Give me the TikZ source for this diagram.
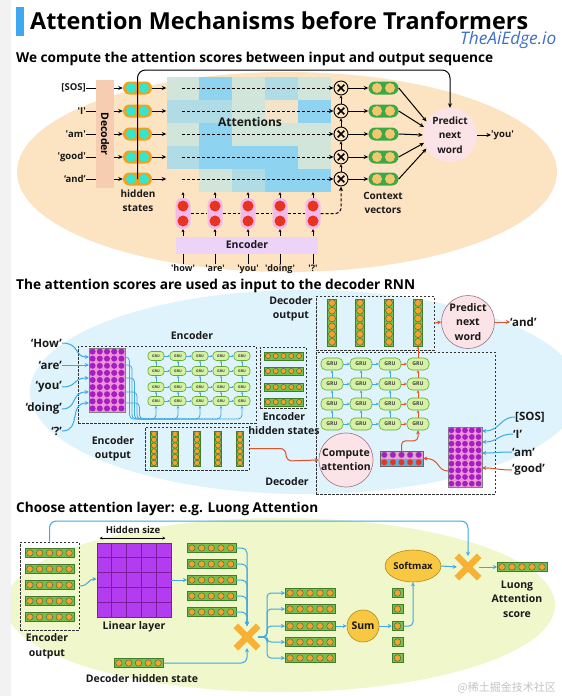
\documentclass[tikz,border=0pt]{standalone}
\usepackage{graphicx}
\usepackage{fontspec}
\setmainfont{Open Sans}
\newfontfamily\cjkfont{Noto Sans CJK SC}
\usetikzlibrary{shapes.geometric,arrows.meta,calc}

\definecolor{titleblue}{HTML}{3EA8F0}
\definecolor{aiblue}{HTML}{3D6FC8}
\definecolor{peach}{HTML}{FCE3C1}
\definecolor{decpeach}{HTML}{F6CDB0}
\definecolor{capor}{HTML}{F0A21E}
\definecolor{capcy}{HTML}{33E6CF}
\definecolor{ctxg}{HTML}{3BA948}
\definecolor{ctxy}{HTML}{F4C66E}
\definecolor{mA}{HTML}{D2E5DB}
\definecolor{mB}{HTML}{B0DCE6}
\definecolor{mC}{HTML}{8ED3EF}
\definecolor{mP}{HTML}{F3E3C9}
\definecolor{encpink}{HTML}{F2B9EA}
\definecolor{encred}{HTML}{E8341F}
\definecolor{lav}{HTML}{EED3F8}
\definecolor{lblue}{HTML}{DEF3FB}
\definecolor{gruf}{HTML}{D5F1A3}
\definecolor{grud}{HTML}{62A832}
\definecolor{bluel}{HTML}{3EA9E5}
\definecolor{redl}{HTML}{E2502C}
\definecolor{pinkc}{HTML}{FCE3E7}
\definecolor{pinkd}{HTML}{9A7580}
\definecolor{bargreen}{HTML}{74C04C}
\definecolor{bardark}{HTML}{3F7F2A}
\definecolor{dotor}{HTML}{F2A42A}
\definecolor{matpink}{HTML}{EE95D6}
\definecolor{matpur}{HTML}{A41EC4}
\definecolor{lgreen}{HTML}{EFF7CB}
\definecolor{linp}{HTML}{B43CF0}
\definecolor{lind}{HTML}{7A1E9E}
\definecolor{ylw}{HTML}{F9C842}
\definecolor{ylwd}{HTML}{B08A22}
\definecolor{xor}{HTML}{F7B236}
\definecolor{wmgray}{HTML}{C4C4C4}
\definecolor{vecblue}{HTML}{5AAEE0}
\definecolor{vecpink}{HTML}{E9A3DA}
\definecolor{leftgray}{HTML}{F2F2F2}

\newcommand\sq[1]{\textquotesingle#1\textquotesingle}

\tikzset{
  lbl/.style={font=\bfseries\fontsize{10}{14}\selectfont, inner sep=0pt, align=center, text=black!90},
  small/.style={font=\bfseries\fontsize{9.5}{11}\selectfont, inner sep=0pt, text=black!90},
  wlbl/.style={font=\bfseries\fontsize{11.5}{14}\selectfont, inner sep=0pt, text=black!90},
  karr/.style={-{Stealth[length=4.5pt,width=4pt]}, line width=1pt},
  tarr/.style={-{Stealth[length=3pt,width=3pt]}, line width=0.8pt},
  barr/.style={-{Stealth[length=4pt,width=4pt]}, line width=1pt, draw=bluel},
  rarr/.style={-{Stealth[length=4pt,width=4pt]}, line width=1pt, draw=redl},
  tbarr/.style={-{Stealth[length=2pt,width=2.2pt]}, line width=0.6pt, draw=bluel},
  tbarr2/.style={-{Stealth[length=2.8pt,width=2.8pt]}, line width=0.8pt, draw=bluel},
  trarr/.style={-{Stealth[length=2.8pt,width=2.8pt]}, line width=0.8pt, draw=redl},
  kdash/.style={dash pattern=on 3pt off 2pt},
  dashbox/.style={draw=black!80, dash pattern=on 2.5pt off 1.5pt, line width=0.8pt, inner sep=0},
  barbox/.style={draw=bardark, fill=bargreen, line width=0.5pt, inner sep=0},
  dotst/.style={fill=dotor, draw=black!70, line width=0.35pt},
  gru/.style={draw=grud, fill=gruf, line width=0.6pt, rounded corners=3.5pt, inner sep=0,
    minimum width=16pt, minimum height=9pt, font=\bfseries\fontsize{3.6}{4}\selectfont, text=black!75},
  grub/.style={gru, rounded corners=5pt, minimum width=22pt, minimum height=12pt,
    font=\bfseries\fontsize{5.2}{6}\selectfont},
  crossc/.style={circle, draw, line width=0.9pt, fill=peach, minimum size=14pt, inner sep=0,
    path picture={
      \draw[line width=1.7pt] ([shift={(-3.3pt,-3.3pt)}]path picture bounding box.center) -- ([shift={(3.3pt,3.3pt)}]path picture bounding box.center);
      \draw[line width=1.7pt] ([shift={(-3.3pt,3.3pt)}]path picture bounding box.center) -- ([shift={(3.3pt,-3.3pt)}]path picture bounding box.center);}},
  matbox/.style={fill=matpink, draw=black!50, line width=0.4pt, inner sep=0},
}

% horizontal dotted bar: name, x left, y centre, n, pitch, height
\newcommand\dotbarH[6]{%
  \node[barbox, anchor=west, minimum width=#4*#5pt, minimum height=#6pt] (#1) at (#2,#3) {};
  \foreach \k in {1,...,#4}{\filldraw[dotst] ({#2+(\k-0.5)*#5},#3) circle[radius=0.33*#5pt];}
}
% vertical dotted bar: name, x centre, y top, n, pitch, width
\newcommand\dotbarV[6]{%
  \node[barbox, anchor=north, minimum height=#4*#5pt, minimum width=#6pt] (#1) at (#2,#3) {};
  \foreach \k in {1,...,#4}{\filldraw[dotst] (#2,{#3+(\k-0.5)*#5}) circle[radius=0.38*#6pt];}
}
% purple embedding matrix: name, xc, yc, w, h, cols, rows
\newcommand\embmat[7]{%
  \node[matbox, minimum width=#4pt, minimum height=#5pt] (#1) at (#2,#3) {};
  \foreach \cc in {1,...,#6}{\foreach \rr in {1,...,#7}{%
    \fill[matpur] ({#2-#4/2+(\cc-0.5)*#4/#6},{#3-#5/2+(\rr-0.5)*#5/#7}) circle[radius=0.42*#4/#6 pt];}}
}

\begin{document}
\begin{tikzpicture}[x=1pt,y=-1pt]
\useasboundingbox (0,0) rectangle (562,696);
\fill[white] (0,0) rectangle (562,696);

% ================= title =================
\fill[titleblue] (16,7) rectangle (24,36);
\node[anchor=base west, inner sep=0] (title) at (30,29) {\resizebox{498pt}{!}{\bfseries Attention Mechanisms before Tranformers}};
\node[anchor=base west, inner sep=0, text=aiblue] (brand) at (460,45) {\resizebox{96pt}{!}{\itshape TheAiEdge.io}};
\node[anchor=base west, inner sep=0] (h1) at (16,62) {\resizebox{477pt}{!}{\bfseries We compute the attention scores between input and output sequence}};

% ================= top panel =================
\fill[peach] (287,172) ellipse [x radius=270pt, y radius=100pt];

\node[fill=decpeach, rotate=-90, minimum width=108pt, minimum height=18pt, inner sep=0,
  font=\bfseries\fontsize{10.5}{12}\selectfont] (dec) at (105,134) {Decoder};

% attention mosaic
\node[inner sep=0, minimum width=164pt, minimum height=115pt] (attn) at (248.5,134.5) {};
\foreach \r/\cols in {0/{mA,mC,mA,mB,mA},1/{mB,mB,mA,mP,mC},2/{mA,mC,mA,mA,mA},3/{mB,mC,mC,mC,mA},4/{peach,mA,mB,mC,mC}}{
  \foreach \cc [count=\c from 0] in \cols {
    \fill[\cc] ({166.5+32.8*\c},{77+23*\r}) rectangle ({166.5+32.8*(\c+1)},{77+23*(\r+1)});
  }
}
\node[lbl, font=\bfseries\fontsize{12}{14}\selectfont] (attl) at (250,122) {Attentions};

\foreach \y/\t [count=\i] in {88/{[SOS]},111/{\sq{I}},134/{\sq{am}},157/{\sq{good}},179/{‘and’}}{
  \node[small, anchor=east] (in\i) at (86,\y) {\t};
  \draw[line width=1pt] (in\i.east) -- (in\i.east -| dec.south);
  \node[fill=capor, rounded corners=6.5pt, minimum width=29pt, minimum height=13pt, inner sep=0] (hs\i) at (137.5,\y) {};
  \fill[capcy] (131,\y) circle[radius=5pt] (144,\y) circle[radius=5pt];
  \draw[karr] (dec.north |- hs\i) -- (hs\i.west);
  \draw[karr] (hs\i.east) -- (attn.west |- hs\i);
  \node[crossc] (x\i) at (341,\y) {};
  \draw[karr, kdash] ($(attn.west |- hs\i)+(16,0)$) -- (x\i.west);
  \node[fill=ctxg, rounded corners=6.5pt, minimum width=30pt, minimum height=13pt, inner sep=0] (c\i) at (383.5,\y) {};
  \fill[ctxy] (377,\y) circle[radius=5pt] (390,\y) circle[radius=5pt];
  \draw[karr] (x\i.east) -- (c\i.west);
}
\foreach \a/\b in {2/1,3/2,4/3,5/4}{\draw[tarr] (x\a.north) -- (x\b.south);}

\node[circle, fill=pinkc, minimum size=54pt, inner sep=0, lbl, font=\bfseries\fontsize{10}{14.5}\selectfont] (pred) at (450,135) {Predict\\next\\word};
\foreach \i/\ang in {1/150,2/163,3/180,4/197,5/210}{\draw[karr] (c\i.east) -- (pred.\ang);}
\node[small, anchor=west] (you) at (491,135) {\sq{you}};
\draw[karr] (pred.east) -- (you.west);

\coordinate (topL) at (137.5,70);
\coordinate (topR) at (450,70);
\draw[karr, rounded corners=8pt] (hs5.center) -- (topL) -- (topR) -- (pred.north);

\node[lbl] (hsl) at (138,201) {hidden\\states};
\node[lbl] (ctxl) at (383,203) {Context\\vectors};

% encoder (top)
\node[fill=lav, minimum width=142pt, minimum height=17pt, inner sep=0, lbl, font=\bfseries\fontsize{10.5}{12}\selectfont] (enc) at (247,245) {Encoder};
\foreach \x/\t [count=\i] in {183/\sq{how},215/\sq{are},248/\sq{you},280/\sq{doing},313/\sq{?}}{
  \node[fill=encpink, rounded corners=7pt, minimum width=15pt, minimum height=31pt, inner sep=0] (e\i) at (\x,213.5) {};
  \fill[encred] (\x,206) circle[radius=5.5pt] (\x,221) circle[radius=5.5pt];
  \draw[tarr] (e\i.north) -- (e\i.north |- attn.south);
  \draw[tarr] (enc.north -| e\i) -- (e\i.south);
  \node[small, font=\bfseries\fontsize{9}{11}\selectfont, anchor=base] (w\i) at (\x,271) {\t};
  \draw[line width=0.9pt] (w\i.north) -- (w\i.north |- enc.south);
}
\foreach \a/\b in {1/2,2/3,3/4,4/5}{\draw[line width=0.9pt, kdash] (e\a.east) -- (e\b.west);}
\draw[karr, kdash, rounded corners=5pt] (e5.east) -| (x5.south);

% ================= middle panel =================
\fill[lblue] (305,392) ellipse [x radius=275pt, y radius=102pt];
\node[anchor=base west, inner sep=0] (h2) at (16,289) {\resizebox{399pt}{!}{\bfseries The attention scores are used as input to the decoder RNN}};

% encoder
\node[dashbox, minimum width=178pt, minimum height=77pt] (encbox) at (167,384.5) {};
\node[lbl, font=\bfseries\fontsize{10.5}{12}\selectfont] (enclbl) at (192,336) {Encoder};
\embmat{emb}{107}{380}{36}{64}{5}{9}
\foreach \y/\t [count=\i] in {343/{‘How’},365/{‘are’},387/{‘you’},409/{‘doing’},431/{‘?’}}{
  \node[wlbl, anchor=east] (wm\i) at (62,\y) {\t};
}
\draw[barr] (wm1.east) .. controls (80,343) and (74,357) .. (emb.west |- 0,357);
\draw[barr] (wm2.east) -- (emb.west |- wm2.east);
\draw[barr] (wm3.east) .. controls (78,387) and (72,378) .. (emb.west |- 0,378);
\draw[barr] (wm4.east) .. controls (78,409) and (70,392) .. (emb.west |- 0,392);
\draw[barr] (wm5.east) .. controls (82,431) and (68,403) .. (emb.west |- 0,403);

\foreach \x [count=\c] in {156,178,200,221,242}{
  \foreach \y [count=\r] in {356,371,387,401}{
    \node[gru] (ge\c\r) at (\x,\y) {GRU};
  }
}
\foreach \c in {1,...,4}{\pgfmathtruncatemacro\nn{\c+1}\foreach \r in {1,...,4}{\draw[tbarr] (ge\c\r.east) -- (ge\nn\r.west);}}
\foreach \c in {1,...,5}{\foreach \r in {1,2,3}{\pgfmathtruncatemacro\mm{\r+1}\draw[tbarr] (ge\c\mm.north) -- (ge\c\r.south);}}
\foreach \yy [count=\i] in {357,365,378,392,403}{
  \draw[tbarr2, rounded corners=4pt] (emb.east |- 0,\yy) -- ({127+2.5*\i},\yy) -- ({127+2.5*\i},419) -- (ge\i4.south |- 0,419) -- (ge\i4.south);
}

% encoder hidden states
\node[dashbox, minimum width=46pt, minimum height=61pt] (ehbox) at (283,377.5) {};
\foreach \y [count=\i] in {356,371,387,402}{\dotbarH{eh\i}{264}{\y}{5}{7.8}{7.5}}
\node[lbl, font=\bfseries\fontsize{10.5}{14}\selectfont] (ehl) at (284,424) {Encoder\\hidden states};

% encoder output
\node[dashbox, minimum width=104pt, minimum height=43pt] (eobox) at (197,448.5) {};
\foreach \x [count=\i] in {154,175,197,218,240}{\dotbarV{eo\i}{\x}{431}{6}{5.8}{7}}
\node[lbl, font=\bfseries\fontsize{10.5}{14.5}\selectfont] (eol) at (113,449) {Encoder\\output};

% decoder
\node[dashbox, minimum width=179pt, minimum height=142pt] (decbox) at (405.5,423) {};
\node[lbl, font=\bfseries\fontsize{10.5}{12}\selectfont] (decl) at (287,482) {Decoder};
\node[dashbox, minimum width=118pt, minimum height=54pt] (dobox) at (375,323) {};
\node[lbl, font=\bfseries\fontsize{10.5}{14}\selectfont] (dol) at (291,309) {Decoder\\output};
\foreach \x [count=\i] in {332,360,389,418}{\dotbarV{do\i}{\x}{299}{6}{7.8}{9}}

\node[circle, draw=pinkd, line width=0.6pt, fill=pinkc, minimum size=53pt, inner sep=0, lbl,
  font=\bfseries\fontsize{10.5}{14.5}\selectfont] (pred2) at (468,322) {Predict\\next\\word};
\draw[rarr] (dobox.east) -- (pred2.west);
\node[wlbl, anchor=west] (andw) at (510,322) {‘and’};
\draw[rarr] (pred2.east) -- (andw.west);

\foreach \x [count=\c] in {332,361,390,418}{
  \foreach \y [count=\r] in {364,384,404,424}{
    \node[grub] (gd\c\r) at (\x,\y) {GRU};
  }
}
\foreach \c in {1,2}{\pgfmathtruncatemacro\nn{\c+1}\foreach \r in {1,...,4}{\draw[tbarr2] (gd\c\r.east) -- (gd\nn\r.west);}}
\foreach \r in {1,...,4}{\draw[trarr] (gd3\r.east) -- (gd4\r.west);}
\foreach \c in {1,2,3}{\foreach \r in {1,2,3}{\pgfmathtruncatemacro\mm{\r+1}\draw[tbarr2] (gd\c\mm.north) -- (gd\c\r.south);}}
\foreach \r in {1,2,3}{\pgfmathtruncatemacro\mm{\r+1}\draw[trarr] (gd4\mm.north) -- (gd4\r.south);}
\draw[trarr] (gd41.north) -- (do4.south);

\node[circle, draw=pinkd, line width=0.6pt, fill=pinkc, minimum size=52pt, inner sep=0, lbl,
  font=\bfseries\fontsize{10.5}{14}\selectfont] (ca) at (346,460) {Compute\\attention};
\draw[rarr, rounded corners=6pt] (eobox.east) -- (286,448.5) -- (286,461) -- (ca.west);

% attention vector
\node[inner sep=0, minimum width=43pt, minimum height=15pt] (avec) at (401.5,458.5) {};
\fill[vecpink] (avec.north west) rectangle (avec.east);
\fill[vecblue] (avec.west) rectangle (avec.south east);
\draw[line width=0.4pt, black!60] (avec.north west) rectangle (avec.south east);
\foreach \k in {0,...,4}{
  \filldraw[fill=matpur, draw=black!50, line width=0.3pt] ({384.3+8.6*\k},454.8) circle[radius=3pt];
  \filldraw[fill=encred, draw=black!50, line width=0.3pt] ({384.3+8.6*\k},462.3) circle[radius=3pt];
}
\draw[rarr, rounded corners=4pt] (avec.north) -- ++(0,-10) -| (gd44.south);

% decoder inputs
\embmat{dmat}{465}{457}{34}{60}{5}{9}
\node[wlbl, anchor=west] (d1) at (515,417) {[SOS]};
\node[wlbl, anchor=west] (d2) at (513,434) {‘I’};
\node[wlbl, anchor=west] (d3) at (512,452) {‘am’};
\node[wlbl, anchor=west] (d4) at (512,470) {‘good’};
\draw[barr] (d1.west) .. controls (500,417) and (500,431) .. (dmat.east |- 0,431);
\draw[barr] (d2.west) .. controls (498,434) and (498,442) .. (dmat.east |- 0,442);
\draw[barr] (d3.west) .. controls (498,452) and (496,453) .. (dmat.east |- 0,453);
\draw[rarr] (d4.west) .. controls (498,470) and (496,468) .. (dmat.east |- 0,468);
\draw[rarr] (dmat.west |- 0,471) .. controls (437,471) and (440,458.5) .. (avec.east);

% ================= bottom panel =================
\fill[lgreen] (280,605) ellipse [x radius=275pt, y radius=87pt];
\node[anchor=base west, inner sep=0] (h3) at (16,512) {\resizebox{302pt}{!}{\bfseries Choose attention layer: e.g. Luong Attention}};

\node[dashbox, minimum width=59pt, minimum height=88pt] (eo2) at (49.5,586) {};
\foreach \y [count=\i] in {553,569,585,601,617}{\dotbarH{ebr\i}{25}{\y}{5}{9.8}{9}}
\node[lbl, font=\bfseries\fontsize{10.5}{15}\selectfont] (eo2l) at (47,646) {Encoder\\output};

\node[fill=linp, draw=lind, line width=0.8pt, minimum size=74pt, inner sep=0] (lin) at (134,580) {};
\foreach \k in {1,...,4}{
  \draw[lind, line width=0.8pt] ({97+14.8*\k},543) -- ({97+14.8*\k},617);
  \draw[lind, line width=0.8pt] (97,{543+14.8*\k}) -- (171,{543+14.8*\k});
}
\node[lbl, font=\bfseries\fontsize{9.5}{11}\selectfont] (hsz) at (133,530) {Hidden size};
\draw[{Stealth[length=3pt,width=3pt]}-{Stealth[length=3pt,width=3pt]}, line width=0.8pt] ($(lin.north west)+(3,-4.5)$) -- ($(lin.north east)+(-6,-4.5)$);
\node[lbl, font=\bfseries\fontsize{10.5}{12}\selectfont] (linl) at (134,627) {Linear layer};
\draw[barr] (eo2.east |- 0,586) .. controls (89,586) and (88,579) .. (lin.west |- 0,579);

\foreach \y [count=\i] in {548,564,580,596,612}{\dotbarH{rbl\i}{187}{\y}{5}{9.7}{9}}
\draw[barr] (lin.east) -- (rbl3.west);

\node[inner sep=0, minimum size=22pt] (X1) at (247,637) {};
\draw[xor, line width=6.5pt] (X1.north west) -- (X1.south east) (X1.north east) -- (X1.south west);
\foreach \i in {1,...,5}{\draw[barr, rounded corners=5pt] (rbl\i.east) -| (X1.north);}

\dotbarH{dhs}{114}{663}{5}{9.8}{9}
\node[lbl, font=\bfseries\fontsize{10.5}{12}\selectfont] (dhsl) at (142,679) {Decoder hidden state};
\draw[barr, rounded corners=6pt] (dhs.east) -| (X1.south);

\foreach \y [count=\i] in {593,609,626,642,658}{\dotbarH{rbr\i}{285}{\y}{5}{10}{9}}
\foreach \i in {1,...,5}{\draw[barr, rounded corners=4pt] (X1.east) -- (267,637) |- (rbr\i.west);}

\node[circle, fill=ylw, draw=ylwd, line width=0.6pt, minimum size=32pt, inner sep=0, lbl,
  font=\bfseries\fontsize{10.5}{12}\selectfont] (sum) at (363,626) {Sum};
\draw[barr] (rbr3.east) -- (sum.west);
\foreach \y [count=\i] in {593,609,626,642,658}{
  \node[barbox, minimum width=11pt, minimum height=9pt] (sc\i) at (397.5,\y) {};
  \filldraw[dotst] (397.5,\y) circle[radius=3.3pt];
}
\draw[barr] (sum.east) -- (sc3.west);
\node[ellipse, fill=ylw, draw=ylwd, line width=0.6pt, minimum width=46pt, minimum height=32pt, inner sep=0, lbl,
  font=\bfseries\fontsize{9.5}{11}\selectfont] (sm) at (413,566) {Softmax};
\draw[barr, rounded corners=4pt] (sc3.east) -| (sm.south);

\node[inner sep=0, minimum size=22pt] (X2) at (468,567) {};
\draw[xor, line width=6.5pt] (X2.north west) -- (X2.south east) (X2.north east) -- (X2.south west);
\draw[barr] (sm.east) -- (X2.west);
\dotbarH{res}{497}{567}{5}{10}{9}
\draw[barr] (X2.east) -- (res.west);
\node[lbl, font=\bfseries\fontsize{10.5}{14.5}\selectfont] (luong) at (517,599) {Luong\\Attention\\score};

\draw[barr, rounded corners=7pt] (eo2.north) -- (eo2.north |- 0,521) -| (X2.north);

\node[anchor=east, inner sep=0, text=wmgray, font=\cjkfont\fontsize{11}{12}\selectfont] (wmk) at (556,688) {@稀土掘金技术社区};

\fill[leftgray] (0,0) rectangle (11,696);
\end{tikzpicture}
\end{document}
